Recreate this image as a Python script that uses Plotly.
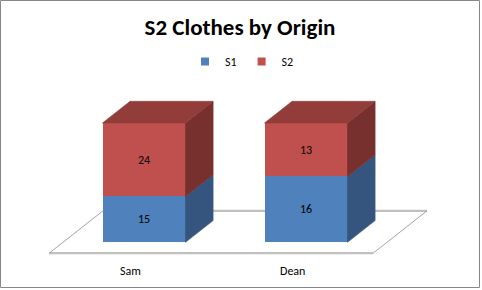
import plotly.graph_objects as go

# ---- data ----
categories = ["Sam", "Dean"]
series_names = ["S1", "S2"]
s1_values = [15, 16]
s2_values = [24, 13]
title_text = "S2 Clothes by Origin"

# ---- styles ----
front_colors = ["#4F81BD", "#C0504D"]
side_colors = ["#35557F", "#78302E"]
top_colors = ["#3F6797", "#923D3A"]
FONT = "Carlito, Lato, 'Liberation Sans', sans-serif"

W, H = 482, 290
# pixel geometry of the projection (front plane of the bars)
X0_PX, BAND_PX = 144.0, 162.0
Y0_PX, PCT_PX = 242.3, 1.193
DX_PX, DY_PX = 27.6, 21.7          # depth vector (right, up) for one bar depth
BAR_W = 83.0 / BAND_PX

x_range = [(0 - X0_PX) / BAND_PX, (W - X0_PX) / BAND_PX]
y_range = [(Y0_PX - H) / PCT_PX, Y0_PX / PCT_PX]
DXu = DX_PX / BAND_PX
DYu = DY_PX / PCT_PX

series = [s1_values, s2_values]
totals = [a + b for a, b in zip(s1_values, s2_values)]
xs = list(range(len(categories)))

fig = go.Figure()

# front faces: 100% stacked bars
for k, name in enumerate(series_names):
    fig.add_trace(go.Bar(
        x=xs, y=series[k], name=name, width=BAR_W,
        marker=dict(color=front_colors[k], line=dict(width=0)),
        text=[str(v) for v in series[k]], textposition="inside",
        insidetextanchor="middle", textangle=0,
        textfont=dict(family=FONT, size=12, color="black"),
        constraintext="none", showlegend=False, hoverinfo="skip",
    ))

# side and top faces computed from the normalised values
for i, cat in enumerate(categories):
    lo = 0.0
    xl, xr = i - BAR_W / 2, i + BAR_W / 2
    for k in range(len(series_names)):
        hi = lo + series[k][i] / totals[i] * 100.0
        fig.add_trace(go.Scatter(
            x=[xr, xr + DXu, xr + DXu, xr, xr],
            y=[lo, lo + DYu, hi + DYu, hi, lo],
            mode="lines", fill="toself", fillcolor=side_colors[k],
            line=dict(width=0.6, color=side_colors[k]),
            showlegend=False, hoverinfo="skip"))
        lo = hi
    k_top = len(series_names) - 1
    fig.add_trace(go.Scatter(
        x=[xl, xl + DXu, xr + DXu, xr, xl],
        y=[lo, lo + DYu, lo + DYu, lo, lo],
        mode="lines", fill="toself", fillcolor=top_colors[k_top],
        line=dict(width=0.6, color=top_colors[k_top]),
        showlegend=False, hoverinfo="skip"))

# legend proxies
for k, name in enumerate(series_names):
    fig.add_trace(go.Scatter(
        x=[None], y=[None], mode="markers", name=name,
        marker=dict(symbol="square", size=8, color=front_colors[k])))

# floor (depth t from -0.5 to 1.45, categories band -0.5 .. n-0.5)
t_front, t_back = -0.5, 1.45
fx0, fx1 = -0.5, len(categories) - 0.5
def P(x, t):
    return x + t * DXu, t * DYu
fl, fr = P(fx0, t_front), P(fx1, t_front)
bl, br = P(fx0, t_back), P(fx1, t_back)
shapes = []
for (a, b, col, w) in [(fl, fr, "#C0C0C0", 2.2), (bl, br, "#C0C0C0", 2.2),
                       (fl, bl, "#8C8C8C", 0.8), (fr, br, "#8C8C8C", 0.8)]:
    shapes.append(dict(type="line", xref="x", yref="y", layer="below",
                       x0=a[0], y0=a[1], x1=b[0], y1=b[1],
                       line=dict(color=col, width=w)))
# chart border
shapes.append(dict(type="rect", xref="paper", yref="paper",
                   x0=0.5 / W, x1=479.5 / W, y0=1 - 287.5 / H, y1=1 - 0.5 / H,
                   line=dict(color="#868686", width=1), layer="above"))

# category labels on the floor front
label_y = (Y0_PX - 270.5) / PCT_PX
annotations = [dict(x=i + t_front * DXu, y=label_y, xref="x", yref="y",
                    text=c, showarrow=False,
                    font=dict(family=FONT, size=12, color="black"))
               for i, c in enumerate(categories)]

fig.update_layout(
    width=W, height=H, margin=dict(l=0, r=0, t=0, b=0),
    paper_bgcolor="white", plot_bgcolor="white",
    barmode="stack", barnorm="percent",
    title=dict(text=f"<b>{title_text}</b>", x=240 / W, xanchor="center",
               y=1 - 27 / H, yanchor="middle",
               font=dict(family=FONT, size=23, color="black")),
    legend=dict(orientation="h", x=242 / W, xanchor="center",
                y=1 - 61.5 / H, yanchor="middle", traceorder="normal",
                font=dict(family=FONT, size=12, color="black"),
                bgcolor="rgba(0,0,0,0)", itemwidth=30),
    xaxis=dict(range=x_range, visible=False, fixedrange=True),
    yaxis=dict(range=y_range, visible=False, fixedrange=True),
    shapes=shapes, annotations=annotations,
)

fig.write_html("out.html")
